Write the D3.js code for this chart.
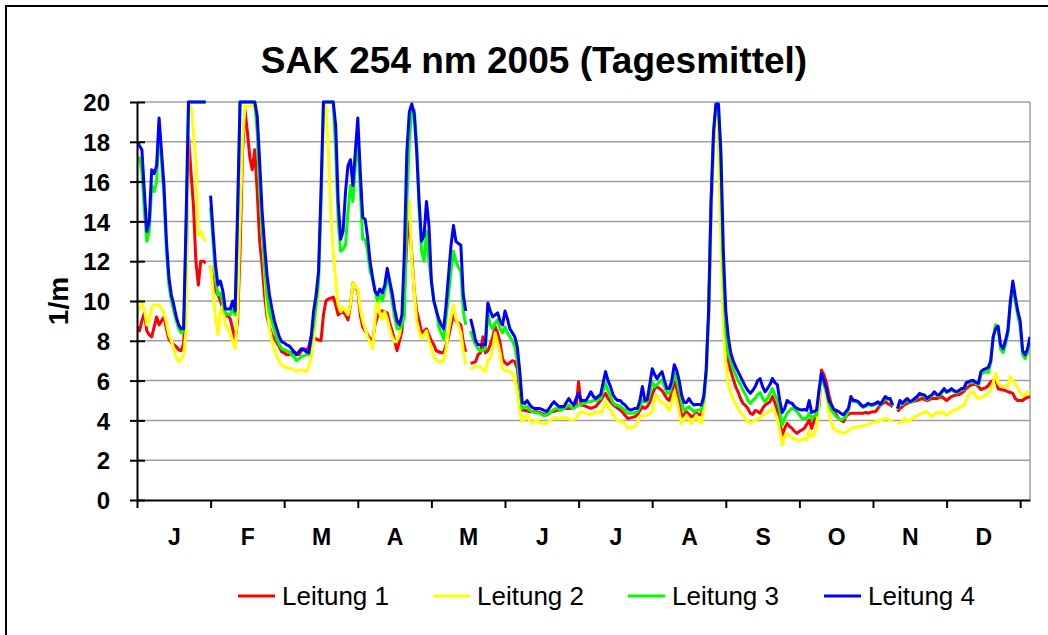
<!DOCTYPE html>
<html><head><meta charset="utf-8">
<script src="https://cdn.jsdelivr.net/npm/d3@7"></script>
<style>
html,body{margin:0;padding:0;background:#fff;}
svg{display:block;font-family:"Liberation Sans",Arial,sans-serif;}
</style></head>
<body>
<svg id="chart" width="1048" height="635"></svg>
<script>
const title = "SAK 254 nm 2005 (Tagesmittel)";
const yTitle = "1/m";
const monthLabels = ["J","F","M","A","M","J","J","A","S","O","N","D"];
const yTicks = [0,2,4,6,8,10,12,14,16,18,20];
const seriesNames = ["Leitung 1","Leitung 2","Leitung 3","Leitung 4"];
const seriesColors = ["#ff0000","#ffff00","#00ff00","#0000ff"];

const leitung1 = [
8.7,8.5,9.0,9.4,8.5,8.3,8.2,8.7,9.2,8.8,
9.0,9.2,8.6,8.1,7.9,7.8,7.7,7.55,7.5,7.85,
10.5,18.3,16.5,14.8,12.0,10.8,12.0,12.0,11.9,null,
11.8,11.0,10.5,10.3,10.0,9.6,9.2,9.3,9.1,8.6,
8.0,9.0,12.5,17.5,19.6,18.5,17.2,16.6,17.6,15.5,
13.0,11.8,10.3,9.2,8.7,8.3,8.1,7.9,7.7,7.45,
7.4,7.3,7.3,7.4,7.45,7.35,7.3,7.5,7.6,7.5,
7.7,8.2,8.15,8.1,8.05,8.0,9.3,10.0,10.1,10.15,
10.2,9.8,9.3,9.4,9.46,9.3,9.05,9.8,10.9,10.7,
10.5,9.3,8.7,8.5,8.3,8.1,7.95,8.8,9.2,9.5,
9.5,9.46,9.4,8.9,8.5,8.0,7.5,8.0,8.5,10.5,
13.0,14.0,12.3,10.5,9.5,9.0,8.4,8.5,8.6,8.3,
8.0,7.8,7.5,7.45,7.4,7.4,7.8,8.2,8.8,9.3,
9.0,8.9,8.8,7.95,7.45,null,6.87,6.9,6.95,7.3,
7.4,8.2,7.4,7.5,7.8,8.2,8.7,8.4,7.9,7.1,
6.9,6.8,6.9,7.0,6.95,6.6,5.5,4.52,4.5,4.48,
4.44,4.44,4.44,4.44,4.4,4.35,4.3,4.27,4.35,4.44,
4.45,4.5,4.52,4.55,4.6,4.6,4.6,4.6,4.65,4.7,
5.94,4.77,4.75,4.7,4.65,4.6,4.65,4.7,4.85,5.0,
5.2,5.36,5.1,4.94,4.8,4.7,4.6,4.52,4.4,4.25,
4.1,4.12,4.15,4.19,4.3,4.5,4.69,4.6,4.7,4.9,
5.3,5.6,5.7,5.6,5.5,5.3,5.1,5.0,5.4,5.94,
5.6,4.9,4.19,4.3,4.44,4.3,4.19,4.25,4.36,4.3,
4.27,4.9,6.2,9.0,14.5,18.0,19.8,19.0,14.5,10.0,
8.0,7.0,6.5,6.1,5.7,5.44,5.1,4.86,4.75,4.6,
4.35,4.3,4.5,4.45,4.36,4.6,4.77,4.85,4.94,5.2,
4.9,4.52,3.9,3.27,3.6,3.85,3.7,3.6,3.45,3.35,
3.45,3.52,3.6,3.8,4.02,3.6,4.0,4.4,4.69,6.53,
6.3,5.9,5.3,4.8,4.52,4.3,4.1,4.0,3.93,4.2,
4.3,4.36,4.36,4.36,4.36,4.36,4.36,4.4,4.36,4.4,
4.44,4.44,4.6,4.77,4.85,4.94,4.85,4.77,4.69,null,
4.44,4.6,4.69,4.8,4.86,4.9,4.94,4.97,5.0,5.05,
5.1,5.05,5.0,5.05,5.1,5.1,5.1,5.15,5.2,5.1,
5.0,5.1,5.2,5.25,5.28,5.3,5.36,5.45,5.6,5.7,
5.78,5.8,5.8,5.7,5.55,5.6,5.65,5.75,5.94,6.0,
6.1,5.6,5.55,5.53,5.5,5.44,5.4,5.36,5.1,5.0,
5.0,5.0,5.1,5.15,5.2];

const leitung2 = [
9.4,9.6,9.9,9.6,8.8,9.0,9.7,9.8,9.8,9.8,
9.6,9.4,8.9,8.3,8.0,7.6,7.2,6.95,7.1,7.3,
8.5,19.8,19.8,18.5,17.0,13.3,13.5,13.2,13.0,null,
11.8,10.5,9.2,8.3,9.5,9.8,8.8,8.6,8.4,8.0,
7.6,9.5,14.0,18.0,19.8,19.8,19.8,19.8,19.8,18.7,
16.0,13.5,11.5,9.6,8.6,8.0,7.6,7.2,6.95,6.8,
6.7,6.65,6.6,6.6,6.55,6.45,6.5,6.55,6.5,6.45,
6.7,7.2,8.0,9.5,10.5,14.5,19.0,19.8,17.5,14.5,
12.5,11.0,9.8,9.46,9.7,9.5,9.3,9.8,10.9,10.7,
10.6,9.6,9.0,8.6,8.2,7.95,7.6,9.0,10.3,9.3,
9.1,9.46,9.1,8.6,8.2,7.95,8.0,8.3,9.0,11.0,
14.5,15.0,12.0,10.5,9.0,8.5,8.1,8.3,8.5,8.0,
7.6,7.2,7.05,6.95,6.95,7.0,7.6,8.5,9.2,9.8,
9.1,8.8,8.4,7.5,6.8,null,6.6,6.65,6.7,6.7,
6.7,6.55,6.45,7.0,7.1,7.6,8.4,7.9,7.4,6.6,
6.5,6.5,6.45,6.37,6.0,5.5,4.5,3.93,4.1,4.27,
4.0,3.85,3.95,4.02,3.9,3.85,3.85,3.85,3.95,4.05,
4.15,4.12,4.1,4.12,4.14,4.15,4.08,4.02,4.05,4.1,
4.3,4.44,4.4,4.36,4.3,4.27,4.35,4.44,4.4,4.36,
4.6,4.94,4.7,4.52,4.3,4.1,4.0,3.93,3.93,3.8,
3.6,3.62,3.65,3.68,3.9,4.19,4.22,4.25,4.27,4.35,
4.44,5.1,5.28,5.0,4.9,4.86,4.7,4.5,4.9,5.44,
5.0,4.4,3.85,4.05,4.27,4.05,3.85,4.05,4.27,4.0,
3.85,4.6,6.0,8.5,14.0,18.0,19.8,18.5,13.0,9.0,
6.8,5.9,5.44,5.1,4.85,4.6,4.4,4.27,4.1,3.95,
3.85,3.93,4.0,4.1,4.15,4.25,4.3,4.4,4.5,4.6,
4.4,4.1,3.5,2.76,3.2,3.35,3.25,3.15,3.05,3.0,
3.0,3.05,3.1,3.0,3.52,3.2,3.3,3.68,5.0,6.1,
5.9,5.2,4.4,3.9,3.6,3.5,3.43,3.4,3.35,3.4,
3.5,3.6,3.62,3.65,3.68,3.7,3.74,3.77,3.8,3.85,
3.9,3.93,3.95,4.02,4.05,4.1,4.08,4.02,3.93,null,
3.85,3.9,3.93,4.1,3.93,4.0,4.1,4.15,4.25,4.3,
4.36,4.4,4.44,4.3,4.19,4.3,4.4,4.35,4.44,4.35,
4.27,4.35,4.45,4.52,4.55,4.6,4.7,4.77,5.0,5.28,
5.4,5.44,5.2,5.1,5.15,5.2,5.28,5.4,5.53,5.9,
6.37,5.86,5.75,5.7,5.7,5.7,6.2,6.0,5.86,5.6,
5.4,5.2,5.3,5.4,5.53];

const leitung3 = [
17.0,17.2,16.5,14.5,13.0,13.5,15.8,15.5,16.0,18.8,
17.0,15.2,12.5,10.8,10.0,9.5,9.0,8.6,8.4,8.5,
13.5,20,20,20,20,20,20,20,20,null,
14.7,13.0,11.2,10.3,10.4,9.9,9.4,9.35,9.3,9.6,
9.3,14.0,20,20,20,20,20,20,20,18.5,
15.5,13.6,11.8,10.3,9.4,9.0,8.5,8.1,7.8,7.6,
7.55,7.5,7.45,7.3,7.2,7.0,7.1,7.2,7.25,7.3,
7.3,8.0,8.8,9.8,11.0,15.0,20,20,20,20,
20,17.5,14.0,12.5,12.6,12.8,14.5,15.8,15.0,16.8,
18.3,15.5,13.1,13.1,12.5,11.5,11.1,10.5,10.0,10.3,
10.0,10.5,11.1,10.8,10.0,9.2,8.6,8.6,8.8,9.2,
15.0,18.0,19.5,19.6,18.0,14.5,12.5,12.0,13.5,12.0,
11.0,10.0,9.6,8.7,8.4,8.1,9.2,10.3,11.5,12.5,
12.0,11.7,11.5,9.5,8.8,null,8.5,8.1,7.8,7.6,
7.5,7.5,7.6,9.4,8.8,8.6,8.9,9.05,8.6,8.4,
8.7,8.4,8.2,8.0,7.7,7.0,5.8,4.6,4.65,4.7,
4.55,4.44,4.4,4.38,4.36,4.3,4.22,4.3,4.36,4.45,
4.55,4.6,4.55,4.5,4.6,4.7,4.77,4.65,4.6,4.7,
4.77,4.8,4.86,4.9,4.94,4.95,5.0,5.0,5.05,5.1,
5.5,5.86,5.5,5.2,4.9,4.77,4.75,4.7,4.6,4.5,
4.36,4.36,4.36,4.4,4.44,4.7,5.0,4.94,4.94,5.3,
5.94,5.7,5.8,5.95,6.03,5.7,5.36,5.36,5.8,6.37,
6.0,5.5,4.9,4.5,4.6,4.69,4.55,4.44,4.5,4.52,
4.55,5.0,6.5,9.5,15.0,18.5,19.9,19.9,17.0,11.5,
8.5,7.4,7.0,6.6,6.3,6.0,5.8,5.5,5.3,5.0,
4.85,5.0,5.1,5.3,5.4,5.1,4.94,5.1,5.36,5.6,
5.3,5.0,4.5,3.77,4.1,4.36,4.5,4.6,4.55,4.45,
4.3,4.1,4.1,4.1,4.36,4.1,4.2,4.27,5.5,6.37,
5.8,5.44,4.9,4.52,4.35,4.19,4.1,4.02,4.1,4.19,
4.52,5.1,4.95,4.95,4.9,4.75,4.65,4.7,4.8,4.75,
4.75,4.8,4.9,4.75,4.95,5.15,5.05,5.05,4.72,null,
4.55,4.95,4.8,4.95,5.05,4.9,4.95,5.05,5.15,5.3,
5.25,5.22,5.05,5.15,5.22,5.38,5.25,5.22,5.38,5.55,
5.4,5.45,5.55,5.45,5.38,5.45,5.55,5.55,5.85,5.88,
5.94,5.94,5.84,5.8,6.3,6.4,6.45,6.4,6.9,8.2,
8.8,8.6,7.6,7.4,7.8,8.4,9.8,10.8,10.0,9.3,
8.7,7.3,7.1,7.4,8.0];

const leitung4 = [
18.0,17.8,17.6,15.5,13.5,14.0,16.6,16.4,16.8,19.2,
17.5,15.8,13.0,11.2,10.3,9.8,9.2,8.8,8.6,8.6,
14.0,20,20,20,20,20,20,20,20,null,
15.3,13.5,11.8,10.8,11.0,10.5,9.6,9.6,9.6,10.0,
9.5,14.5,20,20,20,20,20,20,20,19.3,
17.0,14.5,12.8,11.3,10.3,9.6,9.0,8.6,8.2,7.95,
7.9,7.8,7.75,7.6,7.45,7.3,7.45,7.6,7.55,7.45,
7.4,8.2,9.5,10.3,11.5,15.5,20,20,20,20,
20,18.8,15.0,13.1,13.5,15.5,16.8,17.1,15.8,17.5,
19.2,16.5,14.2,14.1,13.2,12.0,11.2,10.5,10.3,10.6,
10.4,10.8,11.65,11.0,10.4,9.6,9.0,8.8,9.3,12.5,
17.5,19.5,19.9,19.4,17.5,15.0,13.0,13.3,15.0,13.8,
11.0,10.0,9.5,9.1,8.8,8.6,9.8,11.3,12.8,13.8,
13.0,12.9,12.8,10.3,9.5,null,9.1,8.6,8.0,7.8,
7.8,7.8,7.8,9.9,9.5,9.2,9.3,9.4,9.0,8.8,
9.5,9.1,8.6,8.4,8.2,7.7,6.5,4.9,4.85,5.0,
4.8,4.66,4.6,4.6,4.6,4.55,4.5,4.44,4.6,4.8,
4.94,4.8,4.69,4.7,4.69,4.9,5.1,4.9,4.77,5.1,
5.36,5.0,5.0,5.0,5.2,5.44,5.2,5.1,5.2,5.3,
5.9,6.45,6.0,5.7,5.3,5.1,5.0,5.0,4.85,4.77,
4.6,4.52,4.55,4.6,4.6,5.0,5.7,5.0,5.05,5.8,
6.6,6.3,6.1,6.3,6.45,6.0,5.6,5.6,6.0,6.8,
6.5,6.0,5.28,4.9,4.9,5.1,4.9,4.77,4.8,4.8,
4.77,5.2,6.5,9.5,15.0,18.5,19.9,19.9,17.5,12.5,
9.5,8.2,7.4,7.0,6.7,6.45,6.2,5.95,5.7,5.5,
5.36,5.5,5.7,6.0,6.1,5.7,5.44,5.6,5.8,6.1,
5.9,5.8,5.0,4.4,4.6,5.0,4.9,4.86,4.7,4.6,
4.55,4.52,4.55,4.5,5.0,4.4,4.45,4.52,5.5,6.37,
6.0,5.6,5.0,4.8,4.55,4.5,4.44,4.35,4.27,4.45,
4.6,5.2,5.0,5.0,4.94,4.8,4.7,4.75,4.86,4.8,
4.8,4.85,4.94,4.8,5.0,5.2,5.1,5.1,4.77,null,
4.6,5.0,4.86,5.0,5.1,4.94,5.0,5.1,5.2,5.36,
5.3,5.28,5.1,5.2,5.28,5.44,5.3,5.28,5.44,5.6,
5.44,5.5,5.6,5.5,5.44,5.5,5.6,5.6,5.9,5.94,
6.0,6.0,5.9,5.86,6.45,6.55,6.6,6.66,7.0,8.2,
8.6,8.74,7.8,7.6,8.0,8.54,10.0,11.0,10.2,9.5,
9.0,7.5,7.29,7.6,8.2];

const allSeries = [leitung1, leitung2, leitung3, leitung4];
allSeries.forEach((s,i)=>{ if (s.length !== 365) throw new Error(seriesNames[i]+" has "+s.length+" values"); });

const svg = d3.select("#chart");
const M = {left:137, right:1030, top:102, bottom:500};
const x = d3.scaleLinear().domain([0,364]).range([M.left, M.right]);
const y = d3.scaleLinear().domain([0,20]).range([M.bottom, M.top]);
const FONT = "'Liberation Sans',Arial,sans-serif";

// outer frame
svg.append("rect").attr("x",6).attr("y",6).attr("width",1200).attr("height",800)
  .attr("fill","#fff").attr("stroke","#000").attr("stroke-width",2);

// title
svg.append("text").attr("x",534).attr("y",73).attr("text-anchor","middle")
  .attr("font-size",37).attr("font-weight","bold").text(title);

// gridlines
svg.append("g").selectAll("line").data(yTicks.filter(d=>d>0)).join("line")
  .attr("x1",M.left).attr("x2",M.right).attr("y1",d=>y(d)).attr("y2",d=>y(d))
  .attr("stroke","#a0a0a0").attr("stroke-width",1.5);
svg.append("line").attr("x1",M.right).attr("x2",M.right).attr("y1",M.top).attr("y2",M.bottom)
  .attr("stroke","#a0a0a0").attr("stroke-width",1.5);

// clip
svg.append("clipPath").attr("id","clip").append("rect")
  .attr("x",M.left).attr("y",M.top-2).attr("width",M.right-M.left).attr("height",M.bottom-M.top+2);

const line = d3.line().defined(d=>d!=null).x((d,i)=>x(i)).y(d=>y(d));
const lines = svg.append("g").attr("clip-path","url(#clip)");
allSeries.forEach((s,i)=>{
  lines.append("path").datum(s).attr("d",line).attr("fill","none")
    .attr("stroke",seriesColors[i]).attr("stroke-width",3).attr("stroke-linejoin","round");
});

// y axis
const yAxis = svg.append("g").attr("transform",`translate(${M.left},0)`)
  .call(d3.axisLeft(y).tickValues(yTicks).tickSize(7).tickSizeOuter(0).tickPadding(20));
yAxis.select(".domain").attr("stroke","#000").attr("stroke-width",2);
yAxis.selectAll(".tick line").attr("x1",8).attr("x2",-7).attr("stroke","#000").attr("stroke-width",2);
yAxis.selectAll(".tick text").attr("font-size",24).attr("font-weight","bold")
  .attr("font-family",FONT).attr("fill","#000").attr("dy","0.36em");

// x axis ticks
const tickDays = d3.range(0,361,30);
const xAxis = svg.append("g").attr("transform",`translate(0,${M.bottom})`)
  .call(d3.axisBottom(x).tickValues(tickDays).tickSize(8).tickSizeOuter(0).tickFormat(""));
xAxis.select(".domain").attr("stroke","#000").attr("stroke-width",2);
xAxis.selectAll(".tick line").attr("stroke","#000").attr("stroke-width",2);
// month labels
const labelDays = monthLabels.map((m,i)=>i*30+15);
const xLab = svg.append("g").attr("transform",`translate(0,${M.bottom})`)
  .call(d3.axisBottom(x).tickValues(labelDays).tickSize(0).tickFormat((d,i)=>monthLabels[i]).tickPadding(29));
xLab.select(".domain").remove();
xLab.selectAll(".tick text").attr("font-size",23).attr("font-weight","bold")
  .attr("font-family",FONT).attr("fill","#000");

// y title
svg.append("text").attr("transform","translate(68,301) rotate(-90)")
  .attr("text-anchor","middle").attr("font-size",28).attr("font-weight","bold").text(yTitle);

// legend
const legX = [238,433,628,824];
const leg = svg.append("g");
seriesNames.forEach((n,i)=>{
  leg.append("line").attr("x1",legX[i]).attr("x2",legX[i]+37).attr("y1",596).attr("y2",596)
    .attr("stroke",seriesColors[i]).attr("stroke-width",3);
  leg.append("text").attr("x",legX[i]+44).attr("y",605).attr("font-size",26).text(n);
});
</script>
</body></html>
